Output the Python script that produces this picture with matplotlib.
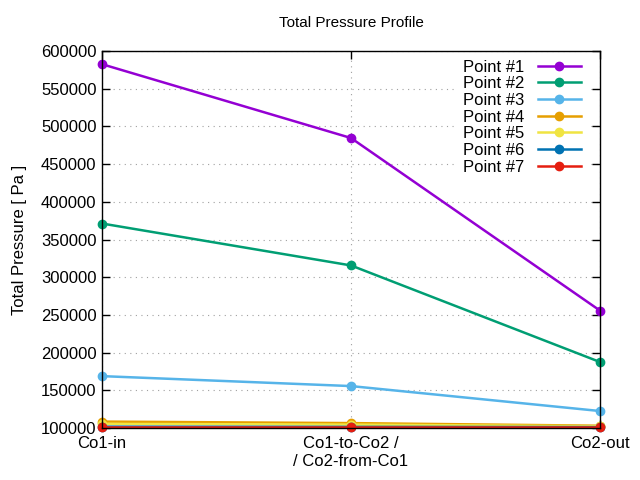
from matplotlib import pyplot as plt

plt.rcParams['font.family'] = ['Liberation Sans', 'DejaVu Sans']

stations = ['Co1-in', 'Co1-to-Co2 /\n/ Co2-from-Co1', 'Co2-out']
labels = ['Point #1', 'Point #2', 'Point #3', 'Point #4', 'Point #5', 'Point #6', 'Point #7']
p1 = [582500, 484600, 255700]
p2 = [371200, 315600, 187500]
p3 = [168800, 155600, 122500]
p4 = [108500, 106500, 103000]
p5 = [105500, 104500, 102300]
p6 = [101800, 101500, 101200]
p7 = [101325, 101325, 101325]
series = [p1, p2, p3, p4, p5, p6, p7]
colors = ['#9400d3', '#009e73', '#56b4e9', '#e69f00', '#f0e442', '#0072b2', '#e51e10']

fig = plt.figure(figsize=(6.4, 4.8), dpi=100)
ax = fig.add_axes([102/640, 1-428/480, 498/640, 377/480])

x = list(range(len(stations)))
for vals, lab, c in zip(series, labels, colors):
    ax.plot(x, vals, color=c, linewidth=1.8, marker='o', markersize=6, label=lab, clip_on=False)

ax.set_xlim(0, 2)
ax.set_ylim(100000, 600000)
ax.set_xticks(x)
ax.set_xticklabels(stations, fontsize=12, linespacing=1.25)
ax.set_yticks(range(100000, 600001, 50000))
ax.tick_params(axis='y', labelsize=12)
ax.tick_params(direction='in', top=True, right=True, length=6, width=1, pad=4)
ax.tick_params(axis='x', pad=6)
ax.grid(True, color='#a0a0a0', linestyle=(0, (1, 4)), linewidth=0.8)
for s in ax.spines.values():
    s.set_linewidth(1)
ax.set_ylabel('Total Pressure [ Pa ]', fontsize=12, labelpad=10)
ax.set_title('Total Pressure Profile', fontsize=11, pad=17)

leg = ax.legend(loc='upper right', markerfirst=False, frameon=True, fontsize=12,
                handlelength=2.6, labelspacing=0.1, borderaxespad=0.0,
                handletextpad=0.8, bbox_to_anchor=(0.975, 0.995))
leg.get_frame().set_edgecolor('none')
leg.get_frame().set_facecolor('white')
leg.get_frame().set_alpha(1)

plt.savefig('out.png', dpi=100)
